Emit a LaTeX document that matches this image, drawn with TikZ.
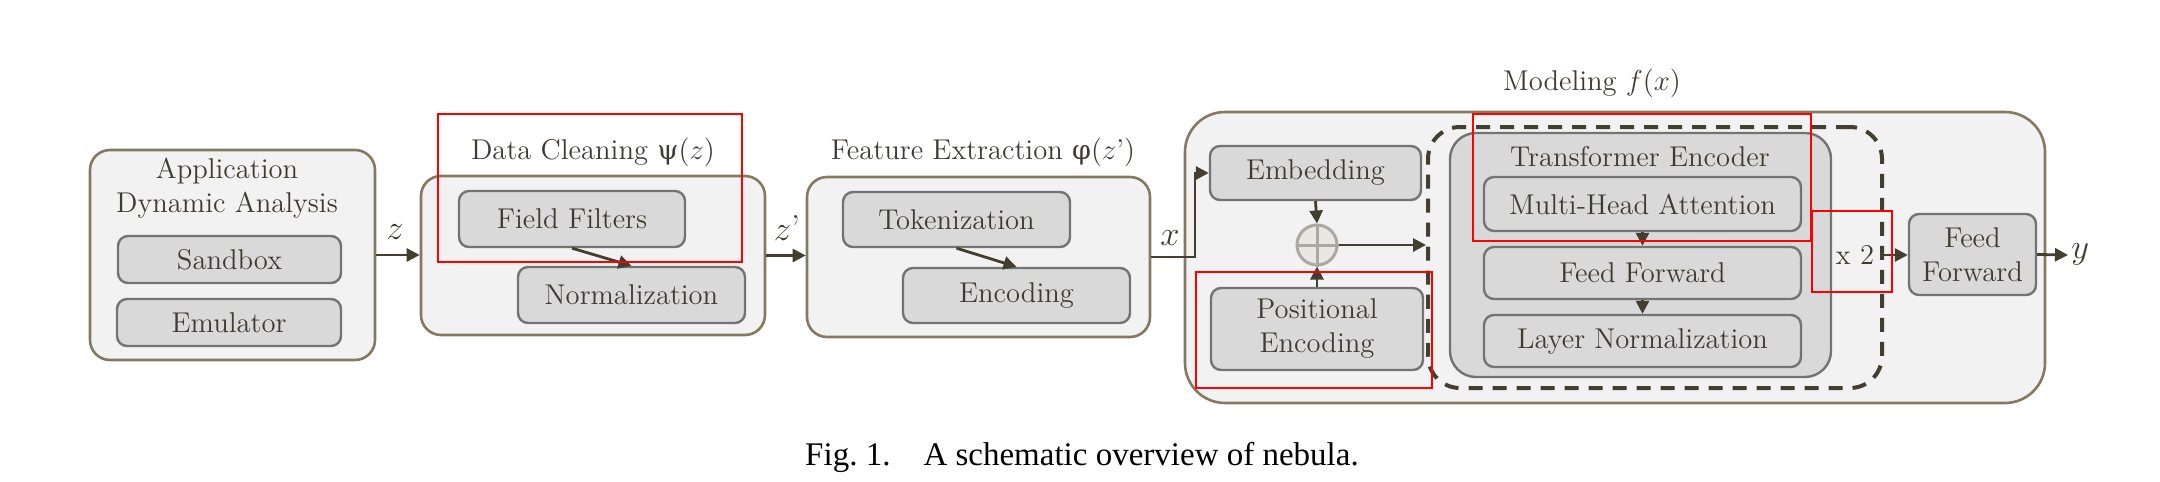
\documentclass[tikz,border=0pt]{standalone}
\usepackage{fontspec}
\newfontfamily\capfont{Liberation Serif}
\newfontfamily\grkfont{DejaVu Serif}
\usetikzlibrary{arrows.meta}
\definecolor{outerfill}{RGB}{242,242,242}
\definecolor{outerdraw}{RGB}{133,121,97}
\definecolor{innerfill}{RGB}{217,217,217}
\definecolor{innerdraw}{RGB}{115,115,115}
\definecolor{txt}{RGB}{64,58,48}
\definecolor{arrc}{RGB}{68,62,48}
\definecolor{opfill}{RGB}{232,231,226}
\definecolor{opdraw}{RGB}{170,168,160}
\begin{document}
\begin{tikzpicture}[x=0.5pt,y=-0.5pt, font=\fontsize{14.3}{17}\selectfont, text=txt,
 outerbox/.style={draw=outerdraw, fill=outerfill, line width=1.3pt, rounded corners=10pt, inner sep=0pt},
 innerbox/.style={draw=innerdraw, fill=innerfill, line width=1.2pt, rounded corners=5pt, inner sep=0pt, align=center},
 arr/.style={draw=arrc, line width=1.4pt, -{Triangle[length=6.5pt,width=6.5pt]}},
 lbl/.style={font=\fontsize{18}{20}\selectfont},
 redbox/.style={draw=red, line width=1pt}]
\useasboundingbox (0,0) rectangle (2160,482);

% outer boxes
\node[outerbox, minimum width=142.5pt, minimum height=105pt] (app) at (232.5,255) {};
\node[outerbox, minimum width=172pt, minimum height=79.5pt] (dc) at (593,255.5) {};
\node[outerbox, minimum width=171.5pt, minimum height=80pt] (fe) at (978.5,257) {};
\node[outerbox, rounded corners=20pt, minimum width=430pt, minimum height=145.5pt] (mod) at (1615,257.5) {};

% titles
\node[align=center] (appt) at (227,188) {Application\\Dynamic Analysis};
\node (dct) at (593,152) {Data Cleaning {\grkfont\fontsize{13.5}{17}\selectfont ψ}$(z)$};
\node (fet) at (983,152) {Feature Extraction {\grkfont\fontsize{13.5}{17}\selectfont φ}($z$’)};
\node (modt) at (1592,83) {Modeling $f(x)$};

% app inner
\node[innerbox, minimum width=111.5pt, minimum height=23.5pt] (sand) at (229.5,259.5) {Sandbox};
\node[innerbox, minimum width=112pt, minimum height=23.5pt] (emu) at (229,322.5) {Emulator};

% data cleaning inner
\node[innerbox, minimum width=113pt, minimum height=28pt] (ff) at (572,219) {Field Filters};
\node[innerbox, minimum width=113.5pt, minimum height=28pt] (norm) at (631.5,295) {Normalization};
\draw[arr] (ff.south) -- (norm.north);

% feature extraction inner
\node[innerbox, minimum width=113.5pt, minimum height=27.5pt] (tok) at (956.5,219.5) {Tokenization};
\node[innerbox, minimum width=113.5pt, minimum height=27.5pt] (enc) at (1016.5,295.5) {Encoding};
\draw[arr] (tok.south) -- (enc.north);

% modeling inner
\node[innerbox, minimum width=105.5pt, minimum height=27pt] (emb) at (1315.5,173) {Embedding};
\node[innerbox, minimum width=106pt, minimum height=41pt] (pos) at (1317,329) {Positional\\Encoding};
\node[circle, draw=opdraw, fill=opfill, line width=1.5pt, minimum size=20pt, inner sep=0pt] (op) at (1317,245) {};
\draw[opdraw, line width=1.5pt] (op.north) -- (op.south) (op.west) -- (op.east);

\node[draw=arrc, line width=2pt, dash pattern=on 7pt off 5pt, rounded corners=16pt, minimum width=227pt, minimum height=130.5pt, inner sep=0pt] (rep) at (1655,257.5) {};
\node[draw=innerdraw, fill=innerfill, line width=1.2pt, rounded corners=13pt, minimum width=190.5pt, minimum height=122pt, inner sep=0pt] (te) at (1640.5,255) {};
\node (tet) at (1640,157) {Transformer Encoder};
\node[innerbox, minimum width=158.5pt, minimum height=27pt] (mha) at (1642.5,204) {Multi-Head Attention};
\node[innerbox, minimum width=158.5pt, minimum height=26pt] (tff) at (1642.5,273) {Feed Forward};
\node[innerbox, minimum width=158.5pt, minimum height=26pt] (ln) at (1642.5,341) {Layer Normalization};
\draw[arr] (mha.south) -- (tff.north);
\draw[arr] (tff.south) -- (ln.north);

\node (x2) at (1855,255) {x 2};
\node[innerbox, minimum width=63.5pt, minimum height=40.5pt] (ffo) at (1972.5,254.5) {Feed\\Forward};

% connectors
\draw[arr] (app.east) -- (app.east -| dc.west);
\node[lbl] (lz) at (395,232) {$z$};
\draw[arr] (dc.east) -- (dc.east -| fe.west);
\node[lbl] (lzp) at (787,228) {$z$’};
\coordinate (yb) at (1195,257);
\draw[arr] (fe.east) -- (fe.east -| yb) |- (emb.west);
\node[lbl] (lx) at (1170,238) {$x$};
\draw[arr] (emb.south) -- (op.north);
\draw[arr] (pos.north) -- (op.south);
\draw[arr] (op.east) -- (op.east -| rep.west);
\draw[arr] (x2 -| rep.east) -- (x2 -| ffo.west);
\coordinate (yend) at (2068,255);
\draw[arr] (ffo.east) -- (yend);
\node[font=\fontsize{16}{18}\selectfont, anchor=west, inner sep=0pt] (ly) at (2071,254) {$y$};

% red annotation boxes
\draw[redbox] (438,114) rectangle (742,262);
\draw[redbox] (1473,114) rectangle (1811,241);
\draw[redbox] (1196,272) rectangle (1432,388);
\draw[redbox] (1812,211) rectangle (1892,292);

% caption
\node[font=\capfont\fontsize{16.5}{18}\selectfont, text=black] (cap) at (1082,457) {Fig.~1.\hspace{1em}A schematic overview of nebula.};
\end{tikzpicture}
\end{document}
